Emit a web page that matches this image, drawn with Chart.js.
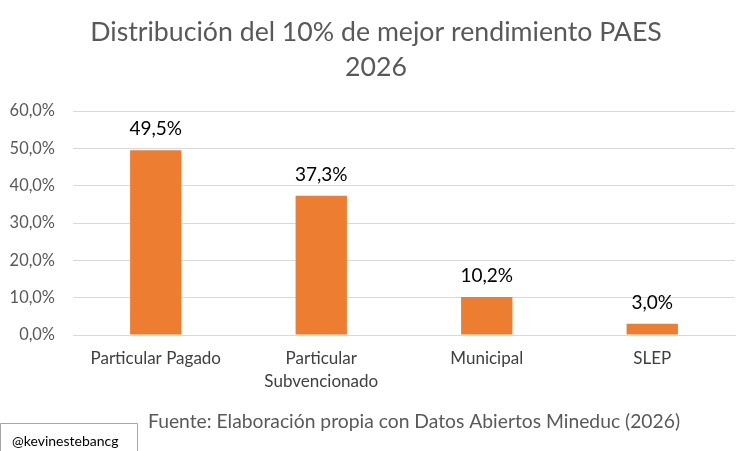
<!DOCTYPE html>
<html><head><meta charset="utf-8">
<script src="https://cdn.jsdelivr.net/npm/chart.js@4.4.1/dist/chart.umd.min.js"></script>
<style>html,body{margin:0;padding:0;background:#fff}#wrap{position:relative;width:753px;height:451px}</style>
</head><body><div id="wrap"><canvas id="c" width="753" height="451"></canvas></div>
<script>
const categories = [["Particular Pagado"], ["Particular", "Subvencionado"], ["Municipal"], ["SLEP"]];
const values = [49.5, 37.3, 10.2, 3.0];
const tickValues = [0, 10, 20, 30, 40, 50, 60];
const titleLines = ["Distribución del 10% de mejor rendimiento PAES", "2026"];
const sourceText = "Fuente: Elaboración propia con Datos Abiertos Mineduc (2026)";
const watermark = "@kevinestebancg";
const FONT = "Lato";

const fmt = v => v.toFixed(1).replace('.', ',') + '%';

const overlay = {
  id: 'overlay',
  afterDatasetsDraw(chart) {
    const ctx = chart.ctx;
    const meta = chart.getDatasetMeta(0);
    ctx.save();
    ctx.fillStyle = '#000';
    ctx.font = `19px ${FONT}`;
    ctx.textAlign = 'center';
    ctx.textBaseline = 'middle';
    meta.data.forEach((bar, i) => {
      ctx.fillText(fmt(values[i]), bar.x, bar.y - 21);
    });
    ctx.restore();
  },
  afterDraw(chart) {
    const ctx = chart.ctx;
    ctx.save();
    ctx.fillStyle = '#595959';
    ctx.textAlign = 'center';
    ctx.textBaseline = 'middle';
    ctx.font = `26.7px ${FONT}`;
    ctx.fillText(titleLines[0], 376, 32);
    ctx.fillText(titleLines[1], 376, 67);
    ctx.textAlign = 'left';
    ctx.font = `19.3px ${FONT}`;
    ctx.fillText(sourceText, 148, 422);
    ctx.strokeStyle = '#a6a6a6';
    ctx.lineWidth = 1;
    ctx.beginPath();
    ctx.moveTo(0.5, 451);
    ctx.lineTo(0.5, 423.5);
    ctx.lineTo(137.5, 423.5);
    ctx.lineTo(137.5, 451);
    ctx.stroke();
    ctx.fillStyle = '#000';
    ctx.font = `14px ${FONT}`;
    ctx.fillText(watermark, 12, 441);
    ctx.restore();
  }
};

new Chart(document.getElementById('c'), {
  type: 'bar',
  data: {
    labels: categories,
    datasets: [{
      data: values,
      backgroundColor: '#ED7D31',
      categoryPercentage: 1,
      barPercentage: 0.31
    }]
  },
  options: {
    responsive: false,
    animation: false,
    events: [],
    layout: { padding: { top: 111, right: 18, bottom: 36, left: 0 } },
    plugins: { legend: { display: false }, tooltip: { enabled: false }, title: { display: false } },
    scales: {
      x: {
        grid: { display: false, drawTicks: false },
        border: { display: true, color: '#d9d9d9' },
        ticks: { color: '#404040', font: { family: FONT, size: 17, lineHeight: 1.35 }, padding: 12, maxRotation: 0, autoSkip: false },
        afterFit(s) { s.height = 80; }
      },
      y: {
        min: 0, max: 60,
        afterBuildTicks(s) { s.ticks = tickValues.map(v => ({ value: v })); },
        grid: { color: '#d9d9d9', drawTicks: false, lineWidth: 1 },
        border: { display: false },
        ticks: { color: '#595959', font: { family: FONT, size: 16.4 }, padding: 18, callback: v => fmt(v) },
        afterFit(s) { s.width = 73; }
      }
    }
  },
  plugins: [overlay]
});
</script></body></html>
